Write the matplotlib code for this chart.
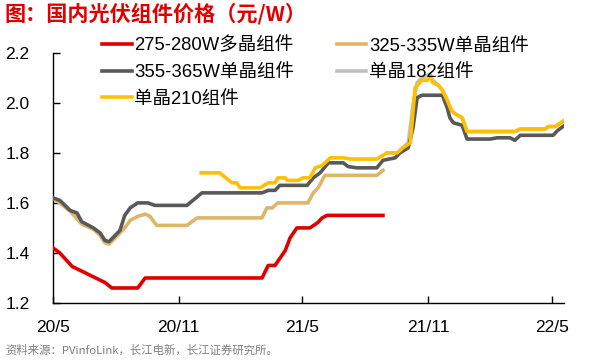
import numpy as np
import pandas as pd
import matplotlib
matplotlib.use('Agg')
import matplotlib.pyplot as plt

plt.rcParams['font.family'] = ['Liberation Sans', 'Noto Sans CJK SC', 'DejaVu Sans']

# 275-280W multi-crystal
red_d = ['2020-05-01', '2020-05-11', '2020-05-29', '2020-07-16', '2020-07-26', '2020-09-02',
         '2020-09-13', '2021-03-03', '2021-03-12', '2021-03-22', '2021-04-06', '2021-04-13',
         '2021-04-23', '2021-05-12', '2021-05-23', '2021-05-30', '2021-06-06', '2021-08-27']
red_v = [1.42, 1.40, 1.346, 1.282, 1.26, 1.26,
         1.30, 1.30, 1.35, 1.35, 1.41, 1.46,
         1.50, 1.50, 1.52, 1.54, 1.55, 1.55]

# 325-335W mono
tan_d = ['2020-05-01', '2020-05-26', '2020-06-12', '2020-06-29', '2020-07-09', '2020-07-16',
         '2020-07-22', '2020-07-31', '2020-08-07', '2020-08-14', '2020-08-22', '2020-09-02',
         '2020-09-13', '2020-09-20', '2020-09-27', '2020-09-30', '2020-11-13', '2020-11-28',
         '2021-03-03', '2021-03-10', '2021-03-18', '2021-03-26', '2021-05-09', '2021-05-17',
         '2021-05-24', '2021-06-03', '2021-08-18', '2021-08-27']
tan_v = [1.62, 1.567, 1.515, 1.495, 1.47, 1.44,
         1.435, 1.46, 1.48, 1.50, 1.53, 1.546,
         1.555, 1.546, 1.52, 1.51, 1.51, 1.54,
         1.54, 1.58, 1.58, 1.60, 1.60, 1.64,
         1.66, 1.71, 1.71, 1.73]

# 355-365W mono
gray_d = ['2020-05-01', '2020-05-11', '2020-05-26', '2020-06-05', '2020-06-12', '2020-06-29',
          '2020-07-09', '2020-07-16', '2020-07-22', '2020-07-31', '2020-08-07', '2020-08-14',
          '2020-08-22', '2020-09-02', '2020-09-17', '2020-09-27', '2020-11-13', '2020-12-05',
          '2021-03-03', '2021-03-12', '2021-03-22', '2021-03-29', '2021-05-08', '2021-05-17',
          '2021-05-27', '2021-06-08', '2021-06-30', '2021-07-07', '2021-07-20', '2021-08-18',
          '2021-08-27', '2021-09-14', '2021-09-21', '2021-10-03', '2021-10-10', '2021-10-16',
          '2021-10-23', '2021-11-22', '2021-11-29', '2021-12-03', '2021-12-08', '2021-12-21',
          '2021-12-28', '2022-01-31', '2022-02-10', '2022-03-01', '2022-03-08', '2022-03-16',
          '2022-05-03', '2022-05-10', '2022-05-20']
gray_v = [1.62, 1.61, 1.57, 1.56, 1.525, 1.50,
          1.48, 1.45, 1.445, 1.47, 1.49, 1.55,
          1.58, 1.60, 1.60, 1.59, 1.59, 1.64,
          1.64, 1.65, 1.65, 1.67, 1.67, 1.70,
          1.72, 1.76, 1.76, 1.745, 1.74, 1.74,
          1.77, 1.78, 1.80, 1.82, 1.90, 2.02,
          2.03, 2.03, 1.98, 1.94, 1.92, 1.91,
          1.855, 1.855, 1.86, 1.86, 1.85, 1.87,
          1.87, 1.89, 1.91]

# mono 210
yel_d = ['2020-12-04', '2020-12-31', '2021-01-18', '2021-01-25', '2021-01-30', '2021-02-28',
         '2021-03-12', '2021-03-22', '2021-03-26', '2021-04-06', '2021-04-09', '2021-04-25',
         '2021-05-02', '2021-05-12', '2021-05-20', '2021-05-30', '2021-06-11', '2021-06-30',
         '2021-07-10', '2021-08-18', '2021-09-02', '2021-09-17', '2021-09-25', '2021-10-06',
         '2021-10-13', '2021-10-23', '2021-10-31', '2021-11-04', '2021-11-08', '2021-11-16',
         '2021-11-22', '2021-11-29', '2021-12-05', '2021-12-11', '2021-12-21', '2021-12-28',
         '2022-03-08', '2022-03-16', '2022-04-21', '2022-04-26', '2022-05-06', '2022-05-20']
yel_v = [1.72, 1.72, 1.68, 1.68, 1.66, 1.66,
         1.68, 1.68, 1.70, 1.70, 1.69, 1.69,
         1.70, 1.70, 1.74, 1.75, 1.78, 1.78,
         1.775, 1.775, 1.80, 1.80, 1.82, 1.84,
         2.06, 2.09, 2.09, 2.107, 2.08, 2.07,
         2.05, 2.01, 1.97, 1.955, 1.94, 1.885,
         1.885, 1.895, 1.895, 1.905, 1.905, 1.93]

# mono 182
lg_d = ['2021-09-02', '2021-09-17', '2021-09-25', '2021-10-03', '2021-10-10', '2021-10-16',
        '2021-10-23', '2021-11-04', '2021-11-08', '2021-11-16', '2021-11-22', '2021-11-29',
        '2021-12-05', '2021-12-11', '2021-12-21', '2021-12-28', '2022-03-08', '2022-03-16',
        '2022-04-21', '2022-04-26', '2022-05-06', '2022-05-20']
lg_v = [1.80, 1.80, 1.82, 1.84, 1.99, 2.08,
        2.10, 2.115, 2.09, 2.07, 2.05, 2.01,
        1.97, 1.955, 1.94, 1.885, 1.885, 1.895,
        1.895, 1.905, 1.905, 1.93]

tick_d = ['2020-05-01', '2020-11-01', '2021-05-01', '2021-11-01', '2022-05-01']
tick_l = ['20/5', '20/11', '21/5', '21/11', '22/5']

fig = plt.figure(figsize=(5.92, 3.6), dpi=100)
ax = fig.add_axes([53/592, 1-303/360, (564-53)/592, (303-52.7)/360])

lw = 2.6
l_lg, = ax.plot(pd.to_datetime(lg_d), lg_v, color='#BFBFBF', lw=lw, zorder=2)
l_red, = ax.plot(pd.to_datetime(red_d), red_v, color='#E00000', lw=lw, zorder=3)
l_tan, = ax.plot(pd.to_datetime(tan_d), tan_v, color='#DFB56A', lw=lw, zorder=3)
l_gray, = ax.plot(pd.to_datetime(gray_d), gray_v, color='#595959', lw=lw, zorder=4)
l_yel, = ax.plot(pd.to_datetime(yel_d), yel_v, color='#FFC000', lw=lw, zorder=5)

ax.set_xlim(pd.Timestamp('2020-05-01'), pd.Timestamp('2022-05-19'))
ax.set_ylim(1.2, 2.2)
ax.set_yticks(np.arange(1.2, 2.21, 0.2))
ax.set_yticklabels(['1.2', '1.4', '1.6', '1.8', '2.0', '2.2'])
ax.set_xticks(pd.to_datetime(tick_d))
ax.set_xticklabels(tick_l)
ax.tick_params(axis='both', direction='in', length=5, width=1, labelsize=12.5, colors='black')
ax.tick_params(axis='y', pad=17)
ax.tick_params(axis='x', pad=12)
for s in ['top', 'right']:
    ax.spines[s].set_visible(False)
for s in ['left', 'bottom']:
    ax.spines[s].set_linewidth(1)
    ax.spines[s].set_color('black')

fig.legend([l_red, l_gray, l_yel, l_tan, l_lg],
           ['275-280W多晶组件', '355-365W单晶组件', '单晶210组件', '325-335W单晶组件', '单晶182组件'],
           loc='upper left', bbox_to_anchor=(102/592, 1-37/360), ncol=2, frameon=False,
           fontsize=13.3, handlelength=1.6, handletextpad=0.15, columnspacing=2.3,
           labelspacing=0.52, borderpad=0, borderaxespad=0)

fig.text(5/592, 1-14/360, '图：国内光伏组件价格（元/W）', color='#E00000', fontsize=15.2,
         fontweight='bold', family=['Noto Sans CJK SC', 'DejaVu Sans'], va='center', ha='left')
fig.text(5/592, 1-350/360, '资料来源：PVinfoLink，长江电新，长江证券研究所。', color='#7F7F7F',
         fontsize=8.2, family=['Noto Sans CJK SC', 'DejaVu Sans'], va='center', ha='left')

fig.savefig('out.png', dpi=100)
